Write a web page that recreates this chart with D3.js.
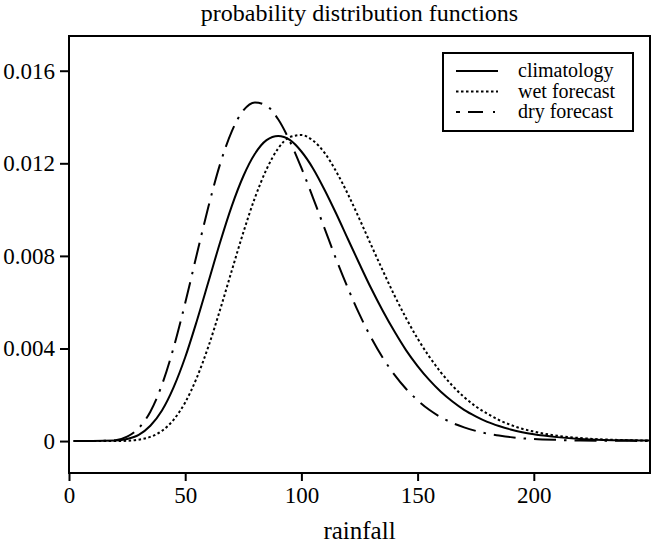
<!DOCTYPE html>
<html>
<head>
<meta charset="utf-8">
<script src="https://cdn.jsdelivr.net/npm/d3@7"></script>
<style>
html,body{margin:0;padding:0;background:#fff;}
svg text{font-family:"Liberation Serif","Times New Roman",Times,"DejaVu Serif",serif !important;fill:#000;}
</style>
</head>
<body>
<svg id="chart" width="651" height="544"></svg>
<script>
// ---- data ----
const rainfall = [2,10,20,25,30,35,40,45,50,55,60,65,70,75,80,85,90,95,100,105,110,115,120,125,130,135,140,145,150,155,160,165,170,175,180,185,190,195,200,210,220,230,240,250];
const climatology = [0,0,0.00002,0.00009,0.00027,0.00066,0.00132,0.00232,0.00362,0.00519,0.00688,0.00858,0.01014,0.01144,0.01241,0.01300,0.01318,0.01301,0.01251,0.01178,0.01085,0.00982,0.00873,0.00765,0.00660,0.00563,0.00474,0.00393,0.00324,0.00264,0.00213,0.00171,0.00135,0.00107,0.00083,0.00065,0.00050,0.00038,0.00029,0.00017,0.00009,0.00005,0.00003,0.00002];
const wetForecast = [0,0,0,0.00001,0.00006,0.00018,0.00044,0.00092,0.00167,0.00274,0.00409,0.00567,0.00735,0.00901,0.01051,0.01174,0.01264,0.01313,0.01322,0.01298,0.01245,0.01164,0.01067,0.00959,0.00847,0.00737,0.00630,0.00532,0.00443,0.00365,0.00297,0.00239,0.00190,0.00150,0.00118,0.00091,0.00070,0.00053,0.00041,0.00023,0.00013,0.00007,0.00004,0.00002];
const dryForecast = [0,0,0.00004,0.00019,0.00056,0.00127,0.00243,0.00403,0.00596,0.00807,0.01013,0.01196,0.01337,0.01428,0.01463,0.01449,0.01390,0.01296,0.01180,0.01051,0.00918,0.00785,0.00661,0.00547,0.00447,0.00360,0.00287,0.00226,0.00176,0.00135,0.00103,0.00078,0.00059,0.00044,0.00032,0.00024,0.00017,0.00012,0.00009,0.00005,0.00002,0.00001,0.00001,0];
const seriesNames = ["climatology","wet forecast","dry forecast"];
const xTicks = [0,50,100,150,200];
const yTicks = [0,0.004,0.008,0.012,0.016];
const yTickLabels = ["0","0.004","0.008","0.012","0.016"];
const title = "probability distribution functions";
const xLabel = "rainfall";

// ---- layout ----
const FONT = "'Liberation Serif', 'Times New Roman', Times, 'DejaVu Serif', serif";
const L = 69, R = 650, T = 36, B = 473;
const svg = d3.select("#chart").attr("font-family", FONT);
const x = d3.scaleLinear().domain([0, 250]).range([L, R]);
const y = d3.scaleLinear().domain([-0.00138, 0.0175]).range([B, T]);

// frame
svg.append("rect").attr("x", L).attr("y", T).attr("width", R - L).attr("height", B - T)
  .attr("fill", "none").attr("stroke", "#000").attr("stroke-width", 2);

// axes
const xAxis = d3.axisBottom(x).tickValues(xTicks).tickSize(8).tickPadding(6).tickFormat(d3.format("d"));
const gx = svg.append("g").attr("transform", `translate(0,${B})`).call(xAxis)
  .attr("font-family", FONT).attr("font-size", 23);
gx.select(".domain").remove();
gx.selectAll("line").attr("stroke-width", 2);
gx.selectAll("text").attr("font-size", 23).style("font-family", FONT);

const yAxis = d3.axisLeft(y).tickValues(yTicks).tickSize(9).tickPadding(5).tickFormat((d, i) => yTickLabels[i]);
const gy = svg.append("g").attr("transform", `translate(${L},0)`).call(yAxis)
  .attr("font-family", FONT).attr("font-size", 23);
gy.select(".domain").remove();
gy.selectAll("line").attr("stroke-width", 2);
gy.selectAll("text").attr("font-size", 23).style("font-family", FONT);

// curves
const styles = [
  {data: climatology, dash: null},
  {data: wetForecast, dash: "2.5,2.5"},
  {data: dryForecast, dash: "22,8,2.5,8"}
];
const line = d3.line().x((d, i) => x(rainfall[i])).y(d => y(d)).curve(d3.curveMonotoneX);
const clip = svg.append("clipPath").attr("id", "clip").append("rect")
  .attr("x", L + 1).attr("y", T + 1).attr("width", R - L - 2).attr("height", B - T - 2);
const gLines = svg.append("g").attr("clip-path", "url(#clip)");
styles.forEach(s => {
  gLines.append("path").attr("d", line(s.data)).attr("fill", "none")
    .attr("stroke", "#000").attr("stroke-width", 2)
    .attr("stroke-dasharray", s.dash);
});

// title and label
svg.append("text").attr("x", (L + R) / 2).attr("y", 21).attr("text-anchor", "middle")
  .attr("font-size", 24).style("font-family", FONT).text(title);
svg.append("text").attr("x", (L + R) / 2).attr("y", 539).attr("text-anchor", "middle")
  .attr("font-size", 25).style("font-family", FONT).text(xLabel);

// legend
const lg = svg.append("g");
lg.append("rect").attr("x", 443).attr("y", 53).attr("width", 190).attr("height", 78)
  .attr("fill", "#fff").attr("stroke", "#000").attr("stroke-width", 2);
const rowY = [71, 91.5, 112];
styles.forEach((s, i) => {
  lg.append("line").attr("x1", 456).attr("x2", 498).attr("y1", rowY[i]).attr("y2", rowY[i])
    .attr("stroke", "#000").attr("stroke-width", 2)
    .attr("stroke-dasharray", i === 2 ? "4,8,15,10,2,10" : s.dash);
  lg.append("text").attr("x", 518).attr("y", rowY[i]).attr("dy", "0.3em")
    .attr("font-size", 20).style("font-family", FONT).text(seriesNames[i]);
});
</script>
</body>
</html>
